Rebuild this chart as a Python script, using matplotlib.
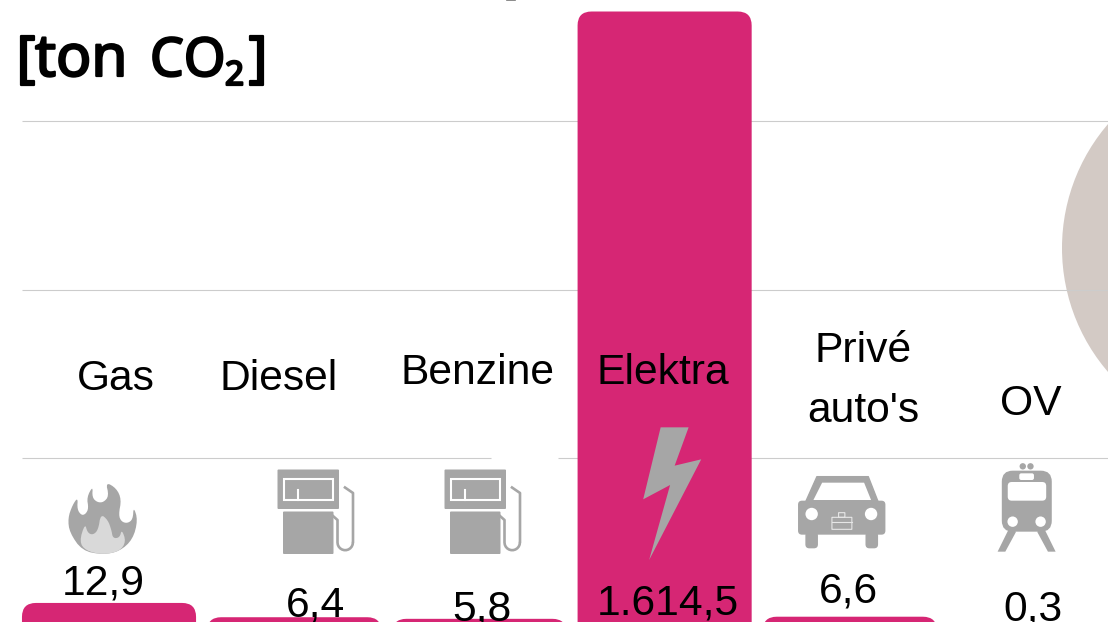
import numpy as np
import matplotlib
matplotlib.use('Agg')
import matplotlib.pyplot as plt
import matplotlib.patheffects as pe
from matplotlib.patches import FancyBboxPatch, Polygon, Circle, Rectangle

# Data
categories = ['Gas', 'Diesel', 'Benzine', 'Elektra', "Privé\nauto's", 'OV']
values = [12.9, 6.4, 5.8, 1614.5, 6.6, 0.3]
value_labels = ['12,9', '6,4', '5,8', '1.614,5', '6,6', '0,3']

PINK = '#d62674'
GREY = '#a6a6a6'
LINE = '#cccccc'
FONT = 'Liberation Sans'

W, H = 1108, 622
fig = plt.figure(figsize=(W / 100, H / 100), dpi=100, facecolor='white')

# Bars axes, the bars follow a power scale
ax = fig.add_axes([0, 0, 1, 1], zorder=1)
ax.set_yscale('function', functions=(lambda v: np.power(np.maximum(v, 0), 0.55),
                                     lambda v: np.power(np.maximum(v, 0), 1 / 0.55)))
ax.set_xlim(-0.5886, 5.394)
ax.set_ylim(4.69, 1668)
ax.axis('off')
x_pos = np.arange(len(categories))
bars = ax.bar(x_pos, values, width=0.94, color=PINK, visible=False)

# Pixel axes for everything else, y runs down like in the picture
px = fig.add_axes([0, 0, 1, 1], zorder=2)
px.set_xlim(0, W)
px.set_ylim(H, 0)
px.axis('off')
px.patch.set_alpha(0)

# Circle behind the grid lines
px.add_patch(Circle((1252, 248), 190, color='#d3cac5', lw=0, zorder=1))

# Grid lines
for y0, segs in [(121, [(22, W)]), (290, [(22, W)]), (458, [(22, 491), (558, W)])]:
    for a, b in segs:
        px.plot([a, b], [y0, y0], color=LINE, lw=0.8, zorder=2, solid_capstyle='butt')
px.plot([507, 515], [0.3, 0.3], color='#777777', lw=1.2, zorder=2)

# Rounded bars taken from the scaled bar geometry
fig.canvas.draw()
for rect in bars:
    box = rect.get_window_extent()
    top = H - box.y1
    if top > H:
        continue
    px.add_patch(FancyBboxPatch((box.x0, top), box.width, 800,
                                boxstyle='round,pad=0,rounding_size=14',
                                fc=PINK, ec='none', zorder=3))


def pump(dx):
    px.add_patch(FancyBboxPatch((277.5 + dx, 469.5), 61.5, 39.5, boxstyle='round,pad=0,rounding_size=1',
                                fc=GREY, ec='none', zorder=4))
    px.add_patch(Rectangle((283.5 + dx, 478.5), 49.5, 21.5, fc='none', ec='white', lw=1.5, zorder=5))
    px.plot([298 + dx, 298 + dx], [490, 499.5], color='white', lw=1.5, zorder=5)
    px.add_patch(FancyBboxPatch((283 + dx, 511.5), 50.5, 42.5, boxstyle='round,pad=0,rounding_size=1',
                                fc=GREY, ec='none', zorder=4))
    t = np.linspace(np.pi, 2 * np.pi, 12)
    hx = np.r_[333, 337.5, 337.5, 345.2 + 7.7 * np.cos(t), 353, 353, 345]
    hy = np.r_[516, 520, 542.5, 542.5 - 7.7 * np.sin(t), 542.5, 493, 487.5]
    px.plot(hx + dx, hy, color=GREY, lw=1.9, zorder=4)


def smooth(points, n=2):
    # corner cutting, closed outline
    p = np.array(points, dtype=float)
    for _ in range(n):
        q = np.roll(p, -1, axis=0)
        p = np.column_stack([0.75 * p + 0.25 * q, 0.25 * p + 0.75 * q]).reshape(-1, 2)
    return p


def zoomed(points, x0, y0, sx):
    p = np.array(points, dtype=float)
    return np.column_stack([x0 + p[:, 0] / sx, y0 + p[:, 1] / 3])


# Flame
flame_out = [(287, 344), (230, 332), (195, 278), (190, 235), (203, 195), (218, 172), (216, 208), (228, 226),
             (240, 222), (248, 205), (243, 172), (260, 138), (258, 172), (272, 187), (290, 187), (305, 168),
             (296, 126), (326, 145), (340, 178), (332, 225), (340, 245), (357, 250), (372, 238), (374, 200),
             (386, 240), (372, 298), (335, 334)]
flame_in = [(222, 305), (238, 250), (245, 278), (260, 285), (275, 270), (282, 222), (302, 240), (312, 270),
            (316, 295), (335, 293), (341, 268), (353, 305), (335, 334), (287, 344), (240, 332)]
px.add_patch(Polygon(smooth(zoomed(flame_out, 0, 440, 2.8)), fc=GREY, ec='none', zorder=4))
px.add_patch(Polygon(smooth(zoomed(flame_in, 0, 440, 2.8)), fc='#d9d9d9', ec='none', zorder=5))

pump(0)
pump(167)

# Lightning bolt
bolt = [(288, 82), (368, 82), (328, 197), (404, 178), (255, 480), (315, 255), (238, 298)]
px.add_patch(Polygon(zoomed(bolt, 560, 400, 2.861), fc=GREY, ec='none', zorder=5))


def zbox(x0, y0, x1, y1, r, fc, z=4, ec='none', lw=0):
    a = zoomed([(x0, y0), (x1, y1)], 560, 400, 2.861)
    px.add_patch(FancyBboxPatch(a[0], a[1, 0] - a[0, 0], a[1, 1] - a[0, 1],
                                boxstyle='round,pad=0,rounding_size=%g' % r, fc=fc, ec=ec, lw=lw, zorder=z))


def zdot(x, y, r, fc, z=5):
    a = zoomed([(x, y)], 560, 400, 2.861)[0]
    px.add_patch(Circle(a, r, fc=fc, ec='none', zorder=z))


# Car
px.add_patch(Polygon(zoomed([(735, 230), (882, 230), (910, 305), (703, 305)], 560, 400, 2.861),
                     fc=GREY, ec=GREY, lw=1, joinstyle='round', zorder=4))
px.add_patch(Polygon(zoomed([(750, 248), (870, 248), (890, 300), (725, 300)], 560, 400, 2.861),
                     fc='white', ec='none', zorder=5))
zbox(681, 302, 931, 404, 4, GREY)
zbox(702, 395, 738, 445, 4, GREY)
zbox(874, 395, 910, 445, 4, GREY)
zdot(720, 342, 6.2, 'white')
zdot(890, 342, 6.2, 'white')
zbox(778, 352, 835, 388, 0.1, 'none', z=5, ec='#e6e6e6', lw=0.8)
zbox(797, 338, 815, 352, 0.1, 'none', z=5, ec='#e6e6e6', lw=0.8)
brief = zoomed([(778, 365), (835, 365)], 560, 400, 2.861)
px.plot(brief[:, 0], brief[:, 1], color='#e6e6e6', lw=0.8, zorder=5)

# Train
zbox(1264, 212, 1407, 395, 11, GREY)
zbox(1281, 246, 1391, 302, 4, 'white', z=5)
zbox(1314, 220, 1356, 240, 2, 'white', z=5)
zdot(1324, 199, 3.2, GREY)
zdot(1346, 199, 3.2, GREY)
zdot(1295, 365, 5.2, 'white')
zdot(1375, 365, 5.2, 'white')
px.add_patch(Polygon(zoomed([(1285, 385), (1305, 395), (1274, 455), (1252, 455)], 560, 400, 2.861),
                     fc=GREY, ec='none', zorder=4))
px.add_patch(Polygon(zoomed([(1365, 395), (1385, 385), (1418, 455), (1396, 455)], 560, 400, 2.861),
                     fc=GREY, ec='none', zorder=4))

# Category names and values, hand placed as in the original
name_xy = [(116, 390), (279, 390), (478, 384), (663, 384), (863, 362.5), (1031, 415)]
for name, (x, y) in zip(categories, name_xy):
    for i, part in enumerate(name.split('\n')):
        px.text(x, y + i * 59, part, family=FONT, fontsize=30.7, color='black',
                ha='center', va='baseline', zorder=6)

value_xy = [(103, 595), (315, 616), (482, 620), (668, 615), (848, 603), (1033, 620)]
for label, (x, y) in zip(value_labels, value_xy):
    px.text(x, y, label, family=FONT, fontsize=30.7, color='black', ha='center', va='baseline', zorder=6)

# Unit title, a thin stroke makes it as heavy as the original
heavy = [pe.withStroke(linewidth=1.6, foreground='black')]
px.text(17, 76, '[', family='Noto Sans', fontsize=40, color='black', va='baseline', zorder=6, path_effects=heavy)
px.text(35, 76, 'ton', family='Noto Sans', fontsize=42, color='black', va='baseline', zorder=6, path_effects=heavy)
px.text(150, 76, 'CO', family='Noto Sans', fontsize=38.5, color='black', va='baseline', zorder=6, path_effects=heavy)
px.text(225, 85, '2', family='Noto Sans', fontsize=24, color='black', va='baseline', zorder=6, path_effects=heavy)
px.text(249, 76, ']', family='Noto Sans', fontsize=40, color='black', va='baseline', zorder=6, path_effects=heavy)

fig.savefig('out.png', dpi=100)
